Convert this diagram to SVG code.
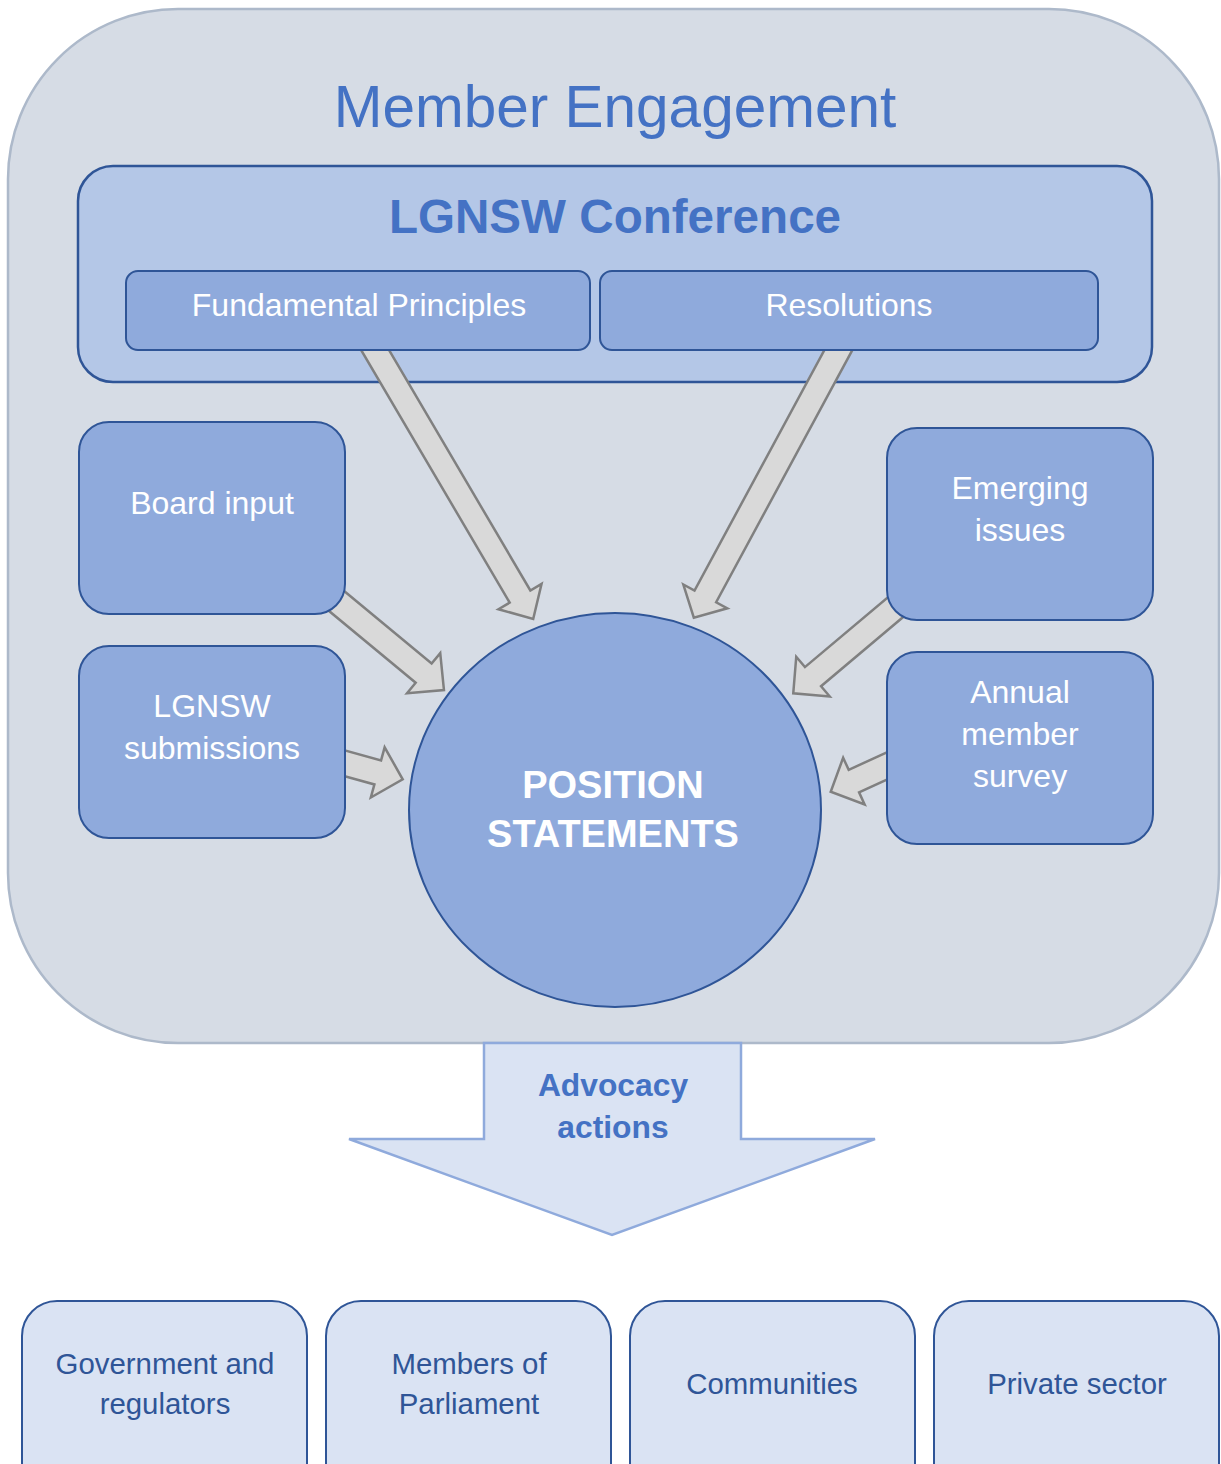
<svg xmlns="http://www.w3.org/2000/svg" width="1221" height="1464" viewBox="0 0 1221 1464">
<style>
text{font-family:"Liberation Sans",Arial,sans-serif;text-anchor:middle}
.box{fill:#8FAADC;stroke:#2F5597;stroke-width:2}
.wt{fill:#FFFFFF;font-size:32px}
.tgt{fill:#DAE3F3;stroke:#2F5597;stroke-width:2}
.tt{fill:#2F5597;font-size:29.4px}
.arr{fill:#D9D9D9;stroke:#808080;stroke-width:2.5;stroke-linejoin:miter}
</style>
<rect width="1221" height="1464" fill="#FFFFFF"/>
<g id="member-engagement">
<rect x="8" y="9" width="1211" height="1034" rx="170" ry="170" fill="#D6DCE5" stroke="#ADB9CA" stroke-width="2.5"/>
<text x="615" y="127" font-size="58.5" fill="#4472C4">Member Engagement</text>
</g>
<g id="conference">
<rect x="78" y="166" width="1074" height="216" rx="35" ry="35" fill="#B4C7E7" stroke="#2F5597" stroke-width="2.5"/>
<text x="615" y="233" font-size="47.6" font-weight="bold" fill="#4472C4">LGNSW Conference</text>
</g>
<g id="connectors">
<path class="arr" d="M0,-12 H297.6 V-25 L323.6,0 L297.6,25 V12 H0 Z" transform="translate(369.2,340) rotate(59.55)"/>
<path class="arr" d="M0,-12.3 H291.4 V-25 L315.6,0 L291.4,25 V12.3 H0 Z" transform="translate(843.8,340) rotate(118.37)"/>
<path class="arr" d="M0,-12.5 H141.9 V-26 L168.3,0 L141.9,26 V12.5 H0 Z" transform="translate(314.4,582.6) rotate(39.66)"/>
<path class="arr" d="M0,-12.5 H62.9 V-26 L88.8,0 L62.9,26 V12.5 H0 Z" transform="translate(317.1,755.7) rotate(15.4)"/>
<path class="arr" d="M0,-12.5 H136.1 V-26 L161.9,0 L136.1,26 V12.5 H0 Z" transform="translate(917.1,589) rotate(139.9)"/>
<path class="arr" d="M0,-12.4 H65.4 V-25.7 L90.9,0 L65.4,25.7 V12.4 H0 Z" transform="translate(913.3,753.8) rotate(155.3)"/>
<path d="M484,1043 H741 V1139 H875 L612,1235 L349,1139 H484 Z" fill="#DAE3F3" stroke="#8FAADC" stroke-width="2.5" stroke-linejoin="miter"/>
<text x="613" y="1096" font-size="31.8" font-weight="bold" fill="#4472C4">Advocacy</text>
<text x="613" y="1138" font-size="31.8" font-weight="bold" fill="#4472C4">actions</text>
</g>
<g id="fundamental-principles">
<rect class="box" x="126" y="271" width="464" height="79" rx="12" ry="12"/>
<text class="wt" x="359" y="316">Fundamental Principles</text>
</g>
<g id="resolutions">
<rect class="box" x="600" y="271" width="498" height="79" rx="12" ry="12"/>
<text class="wt" x="849" y="316">Resolutions</text>
</g>
<g id="board-input">
<rect class="box" x="79" y="422" width="266" height="192" rx="30" ry="30"/>
<text class="wt" x="212" y="514">Board input</text>
</g>
<g id="lgnsw-submissions">
<rect class="box" x="79" y="646" width="266" height="192" rx="30" ry="30"/>
<text class="wt" x="212" y="717">LGNSW</text>
<text class="wt" x="212" y="759">submissions</text>
</g>
<g id="emerging-issues">
<rect class="box" x="887" y="428" width="266" height="192" rx="30" ry="30"/>
<text class="wt" x="1020" y="499">Emerging</text>
<text class="wt" x="1020" y="541">issues</text>
</g>
<g id="annual-member-survey">
<rect class="box" x="887" y="652" width="266" height="192" rx="30" ry="30"/>
<text class="wt" x="1020" y="703">Annual</text>
<text class="wt" x="1020" y="745">member</text>
<text class="wt" x="1020" y="787">survey</text>
</g>
<g id="position-statements">
<ellipse cx="615" cy="810" rx="206" ry="197" fill="#8FAADC" stroke="#2F5597" stroke-width="2"/>
<text x="613" y="798" font-size="38" font-weight="bold" fill="#FFFFFF">POSITION</text>
<text x="613" y="847" font-size="38" font-weight="bold" fill="#FFFFFF">STATEMENTS</text>
</g>
<g id="government">
<rect class="tgt" x="22" y="1301" width="285" height="200" rx="35" ry="35"/>
<text class="tt" x="165" y="1374">Government and</text>
<text class="tt" x="165" y="1414">regulators</text>
</g>
<g id="members-of-parliament">
<rect class="tgt" x="326" y="1301" width="285" height="200" rx="35" ry="35"/>
<text class="tt" x="469" y="1374">Members of</text>
<text class="tt" x="469" y="1414">Parliament</text>
</g>
<g id="communities">
<rect class="tgt" x="630" y="1301" width="285" height="200" rx="35" ry="35"/>
<text class="tt" x="772" y="1394">Communities</text>
</g>
<g id="private-sector">
<rect class="tgt" x="934" y="1301" width="285" height="200" rx="35" ry="35"/>
<text class="tt" x="1077" y="1394">Private sector</text>
</g>
</svg>
